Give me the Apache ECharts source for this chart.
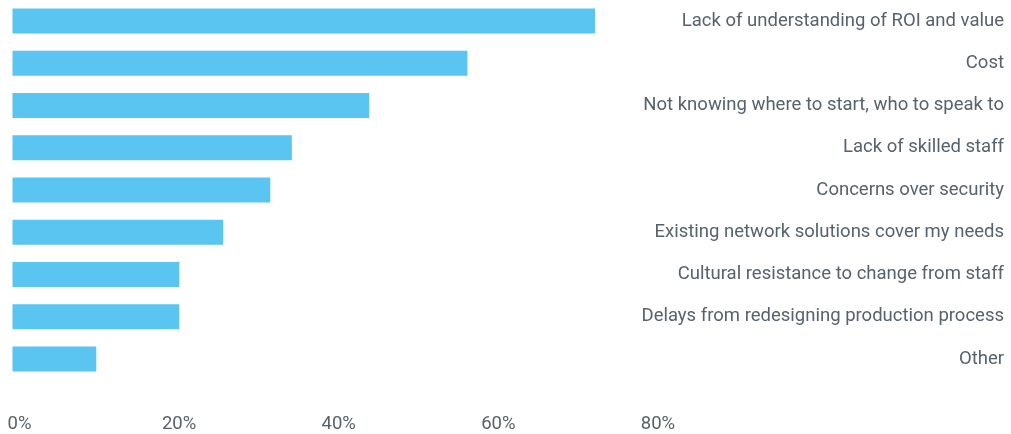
<!DOCTYPE html>
<html>
<head>
<meta charset="utf-8">
<title>Barriers to adoption</title>
<script src="https://cdn.jsdelivr.net/npm/echarts@6/dist/echarts.min.js"></script>
<style>
  html, body { margin: 0; padding: 0; background: #ffffff; }
  #chart { width: 1011px; height: 434px; }
</style>
</head>
<body>
<div id="chart"></div>
<script>
// Survey answers, top to bottom
const categories = [
  'Lack of understanding of ROI and value',
  'Cost',
  'Not knowing where to start, who to speak to',
  'Lack of skilled staff',
  'Concerns over security',
  'Existing network solutions cover my needs',
  'Cultural resistance to change from staff',
  'Delays from redesigning production process',
  'Other'
];
// Share of respondents (%)
const shares = [73, 57, 44.7, 35, 32.3, 26.4, 20.9, 20.9, 10.5];
// Value axis ticks (%)
const tickValues = [0, 20, 40, 60, 80];

const textColor = '#56626c';
const chart = echarts.init(document.getElementById('chart'), null, { renderer: 'canvas' });

chart.setOption({
  animation: false,
  grid: { left: 12.5, right: 360, top: -0.7, height: 381.4, containLabel: false },
  xAxis: {
    type: 'value',
    min: tickValues[0],
    max: tickValues[tickValues.length - 1],
    interval: tickValues[1] - tickValues[0],
    axisLine: { show: false },
    axisTick: { show: false },
    splitLine: { show: false },
    axisLabel: {
      color: textColor,
      fontFamily: 'Roboto',
      fontSize: 18.5,
      margin: 35,
      padding: [0, 0, 0, 14],
      formatter: v => v + '%'
    }
  },
  yAxis: {
    type: 'category',
    data: categories,
    inverse: true,
    position: 'right',
    axisLine: { show: false },
    axisTick: { show: false },
    splitLine: { show: false },
    axisLabel: {
      color: textColor,
      fontFamily: 'Roboto',
      fontSize: 18.5,
      align: 'right',
      margin: 353
    }
  },
  series: [{
    type: 'bar',
    data: shares,
    barWidth: 25,
    itemStyle: { color: '#5bc5f2' }
  }]
});
</script>
</body>
</html>
